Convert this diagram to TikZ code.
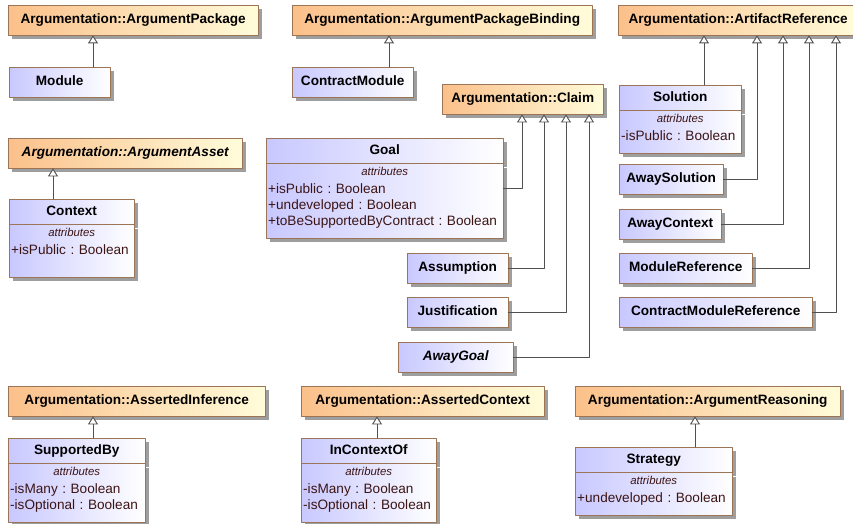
\documentclass[tikz,border=0pt]{standalone}
\usepackage{fontspec}
\setmainfont{Liberation Sans}
\usetikzlibrary{arrows.meta,positioning,shadows,calc}
\definecolor{pkgleft}{HTML}{FBC08A}
\definecolor{pkgright}{HTML}{FFFCDA}
\definecolor{clsleft}{HTML}{C8C8FF}
\definecolor{edgebrown}{HTML}{9C7556}
\definecolor{wire}{HTML}{505050}
\definecolor{attrtext}{HTML}{3C1414}
\newcommand{\namefont}{\fontsize{13.6}{16}\selectfont\bfseries}
\newcommand{\bodyfont}{\fontsize{13.6}{16}\selectfont\frenchspacing}
\newcommand{\attrfont}{\fontsize{11.4}{14}\selectfont\itshape}
% centred compartment title, then the attribute lines
\newcommand{\attrhead}{\hfill{\attrfont attributes}\hfill\null\\[2pt]}
\newcommand{\attrend}[1][8pt]{\rule[-#1]{0pt}{#1}}
\tikzset{
  every picture/.style={line join=round, line cap=round},
  boxshadow/.style={drop shadow={shadow xshift=4pt, shadow yshift=-4pt,
      fill=black!38, opacity=1}},
  parent/.style={draw=edgebrown, left color=pkgleft, right color=pkgright,
    boxshadow, anchor=north west, minimum width=#1, minimum height=30pt,
    inner xsep=9pt, font=\namefont, text height=10pt, text depth=2.8pt},
  cls/.style={draw=edgebrown, left color=clsleft, right color=white,
    boxshadow, anchor=north west, minimum width=#1, minimum height=30pt,
    font=\namefont, text height=10pt, text depth=2.8pt},
  clshead/.style={cls=#1, minimum height=25pt},
  clsbody/.style={draw=edgebrown, left color=clsleft, right color=white,
    boxshadow, text width=#1, inner xsep=2pt, inner ysep=4pt,
    align=left, font=\bodyfont, text=attrtext},
  gen/.style={draw=wire, line width=0.9pt,
    -{Triangle[open, fill=white, length=8pt, width=10pt]}},
}
\begin{document}
\begin{tikzpicture}[x=1pt, y=-1pt]
  \useasboundingbox (0,0) rectangle (853,524);
  \clip (0,0) rectangle (853,524);
  \fill[white] (0,0) rectangle (853,524);
  % Parent classes
  \node[parent=250pt] (pkg) at (8,5) {Argumentation::ArgumentPackage};
  \node[parent=300pt] (binding) at (292,5) {Argumentation::ArgumentPackageBinding};
  \node[parent=240pt] (artifact) at (618,5) {Argumentation::ArtifactReference};
  \node[parent=161pt] (claim) at (442,84) {Argumentation::Claim};
  \node[parent=234pt] (asset) at (8,138) {\itshape Argumentation::ArgumentAsset};
  \node[parent=257pt] (inference) at (8,386) {Argumentation::AssertedInference};
  \node[parent=243pt] (assertctx) at (301,386) {Argumentation::AssertedContext};
  \node[parent=265pt] (reasoning) at (575,386) {Argumentation::ArgumentReasoning};
  % Plain classes
  \node[cls=101pt] (module) at (9,67) {Module};
  \node[cls=121pt] (cmodule) at (292,67) {ContractModule};
  \node[cls=104pt] (awaysol) at (619,164) {AwaySolution};
  \node[cls=102pt] (awayctx) at (619,209) {AwayContext};
  \node[cls=133pt] (modref) at (619,253) {ModuleReference};
  \node[cls=193pt] (cmodref) at (619,297) {ContractModuleReference};
  \node[cls=101pt] (assumption) at (407,253) {Assumption};
  \node[cls=101pt] (justification) at (407,297) {Justification};
  \node[cls=115pt] (awaygoal) at (398,342) {\itshape AwayGoal};
  % Classes with attributes
  \node[clshead=122pt] (solution) at (619,85) {Solution};
  \node[clsbody=118pt, below=0pt of solution] (solution-attr)
    {\attrhead -isPublic : Boolean\attrend};
  \node[clshead=237pt] (goal) at (266,138) {Goal};
  \node[clsbody=233pt, below=0pt of goal] (goal-attr)
    {\attrhead +isPublic : Boolean\\ +undeveloped : Boolean\\
     +toBeSupportedByContract : Boolean\attrend};
  \node[clshead=125pt] (context) at (9,199) {Context};
  \node[clsbody=121pt, below=0pt of context] (context-attr)
    {\attrhead +isPublic : Boolean\attrend[18pt]};
  \node[clshead=137pt] (supported) at (8,438) {SupportedBy};
  \node[clsbody=133pt, below=0pt of supported] (supported-attr)
    {\attrhead -isMany : Boolean\\ -isOptional : Boolean\attrend};
  \node[clshead=135pt] (incontext) at (301,438) {InContextOf};
  \node[clsbody=131pt, below=0pt of incontext] (incontext-attr)
    {\attrhead -isMany : Boolean\\ -isOptional : Boolean\attrend};
  \node[clshead=157pt] (strategy) at (575,447) {Strategy};
  \node[clsbody=153pt, below=0pt of strategy] (strategy-attr)
    {\attrhead +undeveloped : Boolean\attrend};
  % x positions where the generalisations meet their parents
  \foreach \n/\x in {mod/93, cmod/389, ctx/53, sup/93, inc/377, str/695,
      sol/704, asol/757, actx/783, mref/809, cmref/836,
      gl/522, asm/544, jus/566, agl/589}
    \coordinate (x\n) at (\x,0);
  % Straight generalisations
  \draw[gen] (xmod |- module.north) -- (xmod |- pkg.south);
  \draw[gen] (xcmod |- cmodule.north) -- (xcmod |- binding.south);
  \draw[gen] (xctx |- context.north) -- (xctx |- asset.south);
  \draw[gen] (xsup |- supported.north) -- (xsup |- inference.south);
  \draw[gen] (xinc |- incontext.north) -- (xinc |- assertctx.south);
  \draw[gen] (xstr |- strategy.north) -- (xstr |- reasoning.south);
  \draw[gen] (xsol |- solution.north) -- (xsol |- artifact.south);
  % Elbowed generalisations
  \draw[gen] (awaysol.east) -| (xasol |- artifact.south);
  \draw[gen] (awayctx.east) -| (xactx |- artifact.south);
  \draw[gen] (modref.east) -| (xmref |- artifact.south);
  \draw[gen] (cmodref.east) -| (xcmref |- artifact.south);
  \draw[gen] ($(goal.north east)!.5!(goal-attr.south east)$) -| (xgl |- claim.south);
  \draw[gen] (assumption.east) -| (xasm |- claim.south);
  \draw[gen] (justification.east) -| (xjus |- claim.south);
  \draw[gen] (awaygoal.east) -| (xagl |- claim.south);
\end{tikzpicture}
\end{document}
